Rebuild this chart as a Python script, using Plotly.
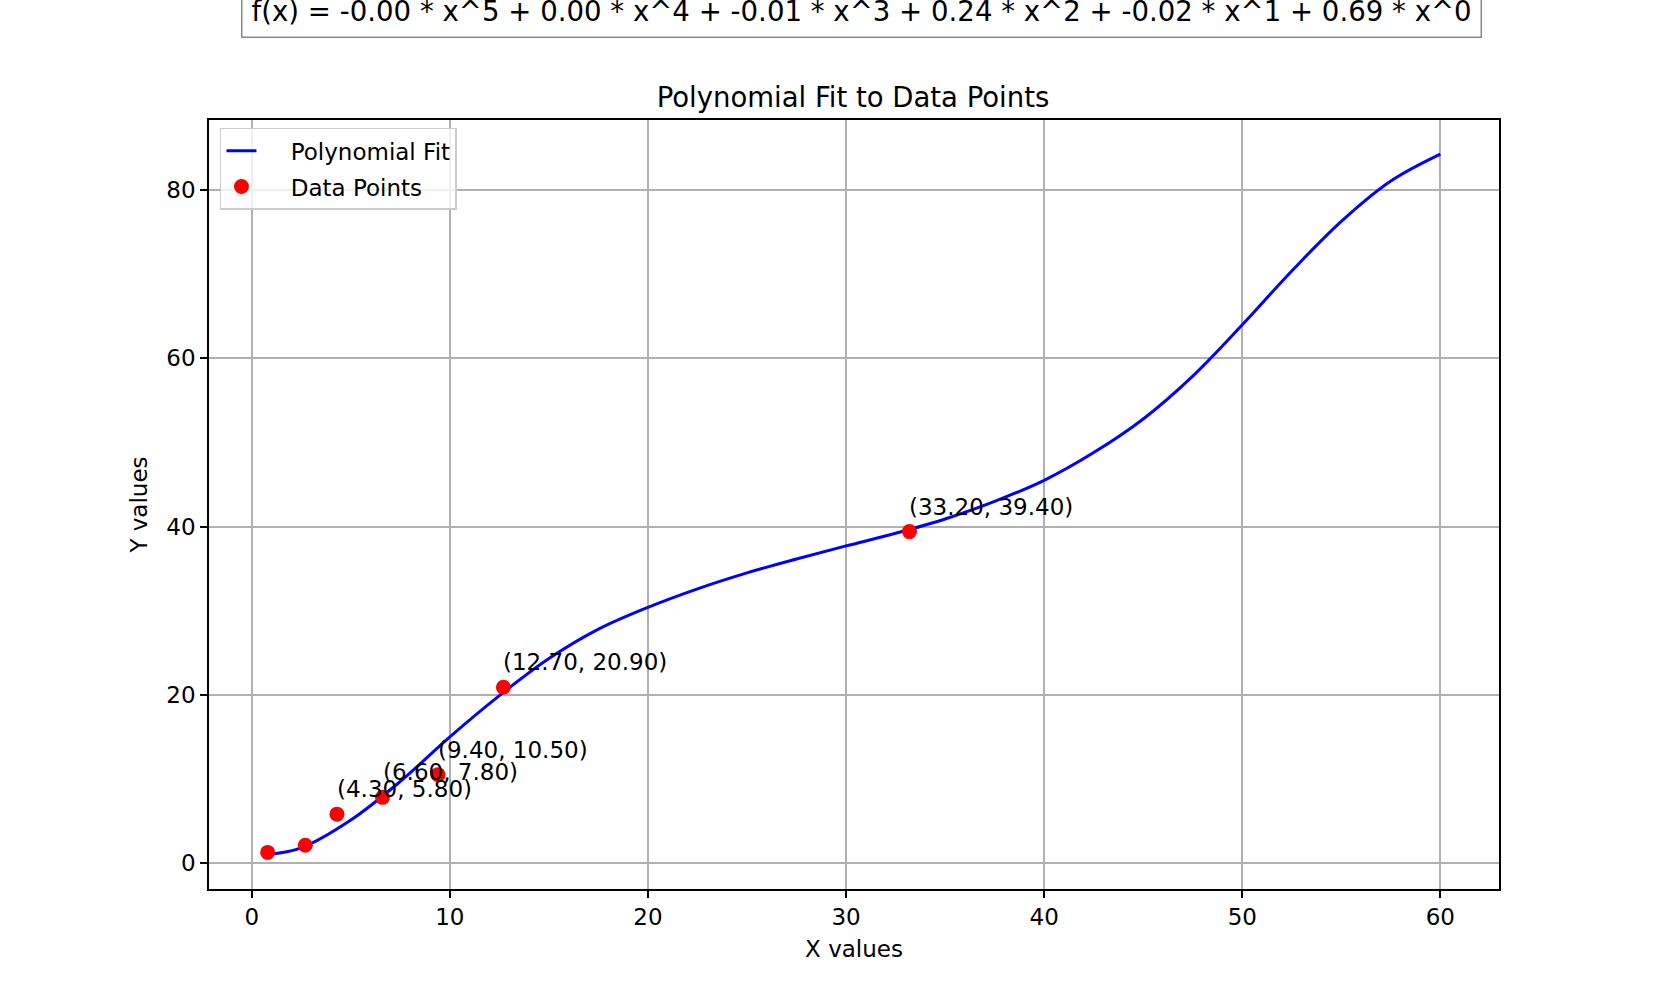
import plotly.graph_objects as go

# Data points
data_x = [0.8, 2.7, 4.3, 6.6, 9.4, 12.7, 33.2]
data_y = [1.25, 2.1, 5.8, 7.8, 10.5, 20.9, 39.4]
labeled = [False, False, True, True, True, True, True]

# Fitted curve
fit_x = [0.8, 2.5, 5, 7.5, 10, 12.5, 15, 17.5, 20, 22.5, 25, 27.5, 30,
         32.5, 35, 37.5, 40, 42.5, 45, 47.5, 50, 52.5, 55, 57.5, 60]
fit_y = [1.0, 1.8, 5.1, 9.7, 15.0, 19.9, 24.3, 27.8, 30.4, 32.6, 34.5, 36.15, 37.7,
         39.2, 40.9, 43.0, 45.5, 48.8, 52.8, 57.9, 64.0, 70.4, 76.3, 81.1, 84.3]

equation = "f(x) = -0.00 * x^5 + 0.00 * x^4 + -0.01 * x^3 + 0.24 * x^2 + -0.02 * x^1 + 0.69 * x^0"
title = "Polynomial Fit to Data Points"

x_ticks = [0, 10, 20, 30, 40, 50, 60]
y_ticks = [0, 20, 40, 60, 80]

FONT = "DejaVu Sans"
FS = 23
PAD = "\u00a0\u00a0\u00a0\u00a0"

fig = go.Figure()
fig.add_trace(go.Scatter(
    x=fit_x, y=fit_y, mode="lines", name=PAD + "Polynomial Fit",
    line=dict(color="#0000ff", width=3, shape="spline", smoothing=1.0),
    legendgroup="a",
))
fig.add_trace(go.Scatter(
    x=data_x, y=data_y, mode="markers", name=PAD + "Data Points",
    marker=dict(color="#ff0000", size=15),
    legendgroup="b",
))

annotations = []
for x, y, lab in zip(data_x, data_y, labeled):
    if lab:
        annotations.append(dict(
            x=x, y=y, xref="x", yref="y", text=f"({x:.2f}, {y:.2f})",
            showarrow=False, xanchor="left", yanchor="middle", yshift=25, xshift=-2,
            font=dict(family=FONT, size=FS, color="#000000"),
        ))

annotations.append(dict(
    x=0.506, y=1.142, xref="paper", yref="paper", text=equation,
    showarrow=False, xanchor="center", yanchor="middle",
    font=dict(family=FONT, size=27.6, color="#000000"),
    bgcolor="#ffffff", bordercolor="#888888", borderwidth=1.5, borderpad=9,
))

fig.update_layout(
    width=1666, height=1000,
    margin=dict(l=209, r=167, t=120, b=111),
    paper_bgcolor="#ffffff", plot_bgcolor="#ffffff",
    font=dict(family=FONT, size=FS, color="#000000"),
    title=dict(text=title, x=853 / 1666, xanchor="center",
               y=1 - 97 / 1000, yanchor="middle",
               font=dict(family=FONT, size=27.5, color="#000000")),
    showlegend=True,
    legend=dict(x=0.0085, y=0.99, xanchor="left", yanchor="top",
                bgcolor="rgba(255,255,255,0.8)", bordercolor="#cccccc", borderwidth=1.5,
                font=dict(family=FONT, size=FS, color="#000000"),
                tracegroupgap=3),
    annotations=annotations,
)

fig.update_xaxes(
    range=[-2.16, 62.96], tickvals=x_ticks, ticktext=[str(t) for t in x_ticks],
    showgrid=True, gridcolor="#b0b0b0", gridwidth=1.5, zeroline=False,
    showline=True, linecolor="#000000", linewidth=1.5, mirror=True,
    ticks="outside", ticklen=7, tickwidth=1.5, tickcolor="#000000",
    tickfont=dict(family=FONT, size=FS, color="#000000"),
    title=dict(text="X values", font=dict(family=FONT, size=FS, color="#000000"), standoff=12),
)
fig.update_yaxes(
    range=[-3.1, 88.35], tickvals=y_ticks, ticktext=[str(t) for t in y_ticks],
    showgrid=True, gridcolor="#b0b0b0", gridwidth=1.5, zeroline=False,
    showline=True, linecolor="#000000", linewidth=1.5, mirror=True,
    ticks="outside", ticklen=7, tickwidth=1.5, tickcolor="#000000",
    tickfont=dict(family=FONT, size=FS, color="#000000"),
    title=dict(text="Y values", font=dict(family=FONT, size=FS, color="#000000"), standoff=12),
)

fig.write_html("out.html")
